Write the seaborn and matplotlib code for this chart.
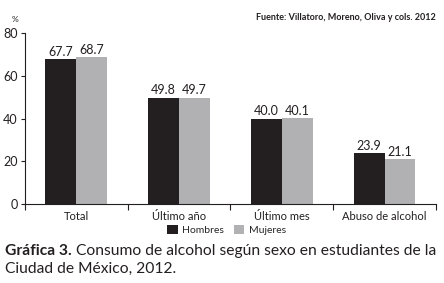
import matplotlib
matplotlib.use("Agg")
import matplotlib.pyplot as plt
import seaborn as sns
import pandas as pd
from matplotlib.ticker import FixedLocator
from matplotlib.patches import Patch

categories = ["Total", "Último año", "Último mes", "Abuso de alcohol"]
hombres = [67.7, 49.8, 40.0, 23.9]
mujeres = [68.7, 49.7, 40.1, 21.1]
series = ["Hombres", "Mujeres"]
yticks = [0, 20, 40, 60, 80]

sns.set_theme(style="white")
plt.rcParams['font.family'] = ['Lato', 'DejaVu Sans']

df = pd.DataFrame({
    "cat": categories * 2,
    "sexo": [series[0]] * 4 + [series[1]] * 4,
    "val": hombres + mujeres,
})

fig = plt.figure(figsize=(4.44, 2.83), dpi=100)
ax = fig.add_axes([0.056, 0.279, 0.926, 0.604])
palette = {"Hombres": "#231f20", "Mujeres": "#b1b1b4"}
sns.barplot(data=df, x="cat", y="val", hue="sexo", order=categories,
            hue_order=series, palette=palette, width=0.6, saturation=1,
            linewidth=0, ax=ax, legend=False)

for cont in ax.containers:
    ax.bar_label(cont, labels=[f"{v:.1f}" for v in cont.datavalues],
                 padding=1, fontsize=9, color="#231f20")

ax.set_xlim(-0.5, 3.5)
ax.set_ylim(0, 80)
ax.set_yticks(yticks)
ax.set_xlabel("")
ax.set_ylabel("")
ax.xaxis.set_minor_locator(FixedLocator([-0.5, 0.5, 1.5, 2.5, 3.5]))
ax.tick_params(axis="x", which="major", length=0, labelsize=8, pad=5, colors="#231f20")
ax.tick_params(axis="x", which="minor", length=4, width=0.8, color="#231f20", bottom=True)
ax.tick_params(axis="y", length=3, width=0.8, labelsize=9, pad=2, colors="#231f20", left=True)
for s in ["top", "right"]:
    ax.spines[s].set_visible(False)
for s in ["left", "bottom"]:
    ax.spines[s].set_color("#231f20")
    ax.spines[s].set_linewidth(0.8)

fig.text(15 / 444, 1 - 20 / 283, "%", fontsize=6, ha="center", va="center", color="#231f20")
fig.text(436 / 444, 1 - 18 / 283, "Fuente: Villatoro, Moreno, Oliva y cols. 2012",
         fontsize=6.5, fontweight="bold", ha="right", va="center", color="#231f20")

handles = [Patch(facecolor=palette[s], edgecolor="none", label=s) for s in series]
fig.legend(handles=handles, loc="center", bbox_to_anchor=(0.51, 1 - 230 / 283),
           ncol=2, frameon=False, fontsize=7.5, handlelength=1.0, handleheight=1.0,
           handletextpad=0.4, columnspacing=1.0, borderpad=0)

fig.canvas.draw()
r = fig.canvas.get_renderer()
W = fig.bbox.width
y1 = 1 - 251 / 283
target_right = 438.0
fs = 10.0
for _ in range(4):
    t1 = fig.text(5 / 444, y1, "Gráfica 3.", fontsize=fs, fontweight="bold",
                  ha="left", va="center", color="#231f20")
    bb = t1.get_window_extent(r)
    t2 = fig.text(bb.x1 / W + 4 / 444, y1,
                  "Consumo de alcohol según sexo en estudiantes de la",
                  fontsize=fs, ha="left", va="center", color="#231f20")
    right = t2.get_window_extent(r).x1
    t1.remove(); t2.remove()
    fs = fs * (target_right - 5) / (right - 5)
t1 = fig.text(5 / 444, y1, "Gráfica 3.", fontsize=fs, fontweight="bold",
              ha="left", va="center", color="#231f20")
bb = t1.get_window_extent(r)
fig.text(bb.x1 / W + 4 / 444, y1,
         "Consumo de alcohol según sexo en estudiantes de la",
         fontsize=fs, ha="left", va="center", color="#231f20")
fig.text(5 / 444, 1 - 269 / 283, "Ciudad de México, 2012.", fontsize=fs,
         ha="left", va="center", color="#231f20")

fig.savefig("out.png", dpi=100)
